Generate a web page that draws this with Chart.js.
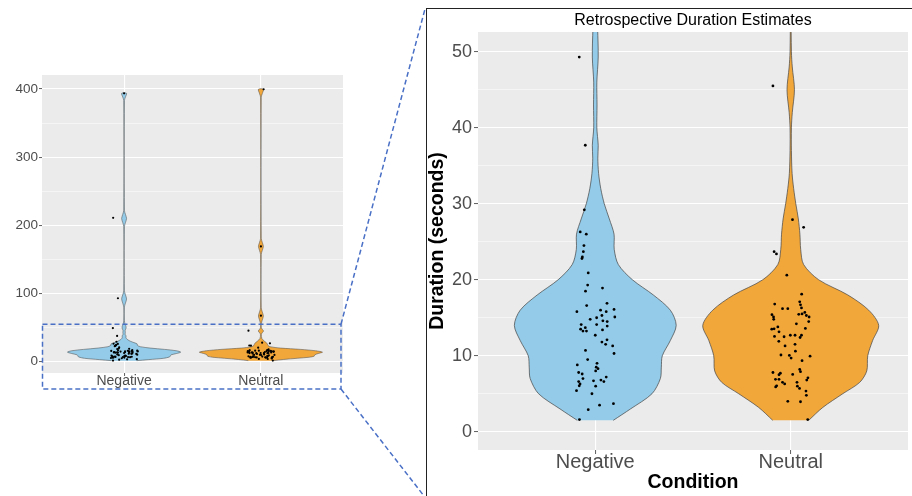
<!DOCTYPE html>
<html>
<head>
<meta charset="utf-8">
<script src="https://cdn.jsdelivr.net/npm/chart.js@4.4.1/dist/chart.umd.min.js"></script>
<style>
  html, body { margin: 0; padding: 0; background: #fff; }
  body { width: 912px; height: 496px; position: relative; overflow: hidden; }
  #fullChart { position: absolute; left: 0; top: 0; }
  #zoomFrame { position: absolute; left: 426px; top: 8px; width: 600px; height: 600px;
    border-left: 1.5px solid #222; border-top: 1.5px solid #222; }
  #zoomChart { position: absolute; left: 428px; top: 10px; }
</style>
</head>
<body>
<canvas id="fullChart" width="426" height="496"></canvas>
<div id="zoomFrame"></div>
<canvas id="zoomChart" width="484" height="486"></canvas>
<script>
const categories = ['Negative', 'Neutral'];

// violin outlines: half width (in category widths) at each duration level
const negLevels = [1.5, 3, 5, 7, 8.5, 10, 12, 14, 16, 18, 20, 22, 24, 26, 28, 30, 32, 34, 36, 37.7,
  40, 43, 46, 49.3, 53, 56, 60, 80, 86, 92, 98, 104, 198, 204, 210, 216, 222, 383, 388, 393.5];
const negHalfWidth = [0.092, 0.18, 0.29, 0.333, 0.338, 0.343, 0.384, 0.414, 0.384, 0.297, 0.19, 0.118,
  0.097, 0.096, 0.072, 0.046, 0.028, 0.017, 0.013, 0.015, 0.008, 0.009, 0.008, 0.015, 0.012, 0.006,
  0.0025, 0.0025, 0.01, 0.018, 0.01, 0.0025, 0.0025, 0.01, 0.018, 0.01, 0.0025, 0.0025, 0.01, 0.018];
const neuLevels = [1.5, 3.2, 5, 6.5, 8, 10, 12, 14, 16, 18, 20, 22, 24, 26, 28, 30, 32, 34, 37, 40,
  42, 45, 48, 50, 55, 61, 67, 73, 79, 157, 163, 169, 175, 181, 388, 393, 399.5];
const neuHalfWidth = [0.092, 0.164, 0.266, 0.353, 0.389, 0.394, 0.419, 0.45, 0.399, 0.292, 0.143,
  0.066, 0.051, 0.047, 0.039, 0.026, 0.015, 0.007, 0.0035, 0.0035, 0.008, 0.019, 0.008, 0.0035, 0.0025,
  0.01, 0.018, 0.01, 0.0025, 0.0025, 0.01, 0.018, 0.01, 0.0025, 0.0025, 0.01, 0.018];

// individual estimates (seconds) and their horizontal jitter
const negValues = [49.3, 37.7, 29.2, 26.3, 26.0, 24.5, 23.7, 23.0, 22.8, 20.9, 19.3, 18.5, 18.9, 16.9,
  16.6, 15.8, 16.0, 15.8, 16.1, 15.1, 15.3, 15.0, 14.8, 14.1, 13.7, 13.5, 13.25, 13.25, 14.1, 14.6,
  14.5, 13.9, 13.4, 12.7, 11.8, 12.1, 11.5, 11.3, 10.3, 10.7, 9.5, 9.0, 8.5, 8.3, 8.0, 8.8, 7.8, 7.6,
  7.0, 6.6, 6.3, 6.05, 6.7, 6.8, 6.6, 7.2, 6.0, 5.4, 5.0, 3.7, 3.5, 2.9, 1.6, 93, 211, 393.5];
const negJitter = [-0.082, -0.051, -0.056, -0.077, -0.046, -0.058, -0.061, -0.066, -0.068, -0.036,
  -0.039, -0.05, 0.037, 0.06, -0.044, -0.094, 0.027, 0.056, 0.096, 0.1, 0.034, 0.007, -0.026, -0.072,
  -0.051, -0.075, -0.063, -0.045, 0.007, 0.039, 0.061, 0.061, 0.037, 0, 0.034, 0.06, 0.053, 0.089,
  0.096, -0.05, -0.039, 0.009, 0.005, 0.014, 0.002, -0.092, -0.085, -0.067, -0.063, -0.085, -0.078,
  -0.082, -0.009, 0.029, 0.044, 0.056, 0.002, -0.096, -0.017, 0.093, 0.022, -0.036, -0.081,
  -0.045, -0.08, 0];
const neuValues = [45.5, 27.9, 26.9, 23.7, 23.4, 20.6, 18.1, 16.8, 17.1, 16.7, 16.3, 16.2, 16.2, 15.4,
  15.1, 15.45, 15.5, 15.7, 15.3, 15.1, 14.8, 13.55, 13.8, 13.5, 13.15, 14.2, 14.5, 13.6, 12.55, 12.5,
  12.7, 12.7, 12.7, 12.4, 11.9, 11.3, 11.5, 10.1, 10.05, 9.7, 10.6, 9.95, 9.35, 8.2, 7.9, 7.8, 7.7,
  7.5, 7.55, 6.9, 6.9, 7.1, 6.8, 6.5, 6.3, 6.5, 6.0, 5.7, 6.05, 5.9, 5.35, 4.8, 4.0, 3.95, 1.6,
  67.5, 169, 399.5];
const neuJitter = [-0.091, 0.009, 0.066, -0.085, -0.073, -0.02, 0.056, -0.082, 0.046, 0.05, 0.055,
  -0.042, -0.015, -0.096, -0.088, 0.041, 0.058, 0.072, 0.08, 0.094, -0.087, -0.085, -0.066, -0.097,
  -0.06, 0.029, 0.092, 0.075, -0.083, -0.034, -0.002, 0.022, 0.055, 0.048, -0.061, -0.029, 0.022,
  -0.05, -0.007, 0.002, 0.024, 0.099, 0.058, 0.046, 0.05, -0.091, -0.053, -0.06, 0.01, -0.078, -0.06,
  0.088, 0.082, -0.042, -0.031, 0.032, 0.034, 0.045, -0.072, -0.077, 0.078, 0.08, -0.015, 0.05,
  0.087, 0, 0, 0.02];

const fullTicks = [0, 50, 100, 150, 200, 250, 300, 350, 400];
const zoomTicks = [0, 5, 10, 15, 20, 25, 30, 35, 40, 45, 50];
const zoomTop = 55;

const FONT = 'Liberation Sans, Arial, sans-serif';

function violinOutline(center, levels, widths) {
  const right = levels.map((y, i) => ({ x: center + widths[i], y }));
  const left = levels.map((y, i) => ({ x: center - widths[i], y })).reverse();
  return right.concat(left);
}

function jittered(center, values, jitter) {
  return values.map((y, i) => ({ x: center + jitter[i], y }));
}

function buildDatasets(radius, outline) {
  return [
    {
      data: jittered(1, negValues, negJitter).concat(jittered(2, neuValues, neuJitter)),
      backgroundColor: '#000', borderWidth: 0, pointRadius: radius
    },
    {
      data: violinOutline(1, negLevels, negHalfWidth), showLine: true, fill: 'shape',
      backgroundColor: '#93CBE8', borderColor: '#444', borderWidth: outline, pointRadius: 0, tension: 0.3
    },
    {
      data: violinOutline(2, neuLevels, neuHalfWidth), showLine: true, fill: 'shape',
      backgroundColor: '#F2A73B', borderColor: '#444', borderWidth: outline, pointRadius: 0, tension: 0.3
    }
  ];
}

const panelBackground = {
  id: 'panelBackground',
  beforeDraw(chart) {
    const { ctx, chartArea: a } = chart;
    ctx.save();
    ctx.fillStyle = '#EBEBEB';
    ctx.fillRect(a.left, a.top, a.right - a.left, a.bottom - a.top);
    ctx.restore();
  }
};

// dashed box on the full view and the lines leading to the zoomed view
const zoomBox = {
  id: 'zoomBox',
  afterDraw(chart) {
    const { ctx, chartArea: a } = chart;
    const top = chart.scales.y.getPixelForValue(zoomTop);
    const bottom = a.bottom + 16;
    const left = a.left + 0.5;
    const right = a.right - 2;
    ctx.save();
    ctx.strokeStyle = '#4A70C6';
    ctx.lineWidth = 1.5;
    ctx.setLineDash([5, 3]);
    ctx.strokeRect(left, top, right - left, bottom - top);
    ctx.beginPath();
    ctx.moveTo(right, top);
    ctx.lineTo(chart.width - 1, 9);
    ctx.moveTo(right, bottom);
    ctx.lineTo(chart.width - 2, chart.height);
    ctx.stroke();
    ctx.restore();
  }
};

const isMajor = (v, step) => Math.abs(v % step) < 1e-9;

function xScale(labelSize, height, padding, tickLength, title) {
  return {
    type: 'linear', min: 0.4, max: 2.6,
    afterBuildTicks: s => { s.ticks = [{ value: 1 }, { value: 2 }]; },
    afterFit: s => { s.height = height; },
    ticks: {
      callback: v => categories[v - 1], color: '#4D4D4D', autoSkip: false, maxRotation: 0,
      font: { family: FONT, size: labelSize }, padding
    },
    grid: { color: '#fff', lineWidth: 1.1, tickLength, tickColor: '#333', tickWidth: 0.8 },
    border: { display: false },
    title
  };
}

function yScale(min, max, ticks, step, width, labelSize, padding, tickLength, title) {
  return {
    min, max,
    afterBuildTicks: s => { s.ticks = ticks.map(value => ({ value })); },
    afterFit: s => { s.width = width; },
    ticks: {
      callback: v => isMajor(v, step) ? v : '', color: '#4D4D4D',
      font: { family: FONT, size: labelSize }, padding
    },
    grid: {
      color: '#fff', tickLength,
      lineWidth: c => c.tick && isMajor(c.tick.value, step) ? 1.1 : 0.5,
      tickColor: c => c.tick && isMajor(c.tick.value, step) ? '#333' : 'rgba(0,0,0,0)',
      tickWidth: 0.8
    },
    border: { display: false },
    title
  };
}

new Chart(document.getElementById('fullChart'), {
  type: 'scatter',
  data: { datasets: buildDatasets(1.1, 0.5) },
  options: {
    responsive: false, animation: false, events: [],
    layout: { padding: { left: 0, top: 75, right: 83, bottom: 101 } },
    plugins: { legend: { display: false }, tooltip: { enabled: false } },
    scales: {
      x: xScale(14, 22, -3, 3, { display: false }),
      y: yScale(-16.6, 420.4, fullTicks, 100, 42, 13.5, 1, 3, { display: false })
    }
  },
  plugins: [panelBackground, zoomBox]
});

new Chart(document.getElementById('zoomChart'), {
  type: 'scatter',
  data: { datasets: buildDatasets(1.4, 0.7) },
  options: {
    responsive: false, animation: false, events: [],
    layout: { padding: { left: 0, top: 0, right: 4, bottom: 0 } },
    plugins: {
      legend: { display: false }, tooltip: { enabled: false },
      title: {
        display: true, text: 'Retrospective Duration Estimates', fullSize: false, color: '#000',
        font: { family: FONT, size: 16, weight: 'normal', lineHeight: 1.2 },
        padding: { top: 1, bottom: 1.8 }
      }
    },
    scales: {
      x: xScale(20, 46, -4, 4, {
        display: true, text: 'Condition', color: '#000',
        font: { family: FONT, size: 19.5, weight: 'bold', lineHeight: 1 }, padding: { top: 0, bottom: 4 }
      }),
      y: yScale(-2.4, 52.6, zoomTicks, 10, 50, 18, 2, 4, {
        display: true, text: 'Duration (seconds)', color: '#000',
        font: { family: FONT, size: 19.5, weight: 'bold', lineHeight: 1 }, padding: 0
      })
    }
  },
  plugins: [panelBackground]
});
</script>
</body>
</html>
